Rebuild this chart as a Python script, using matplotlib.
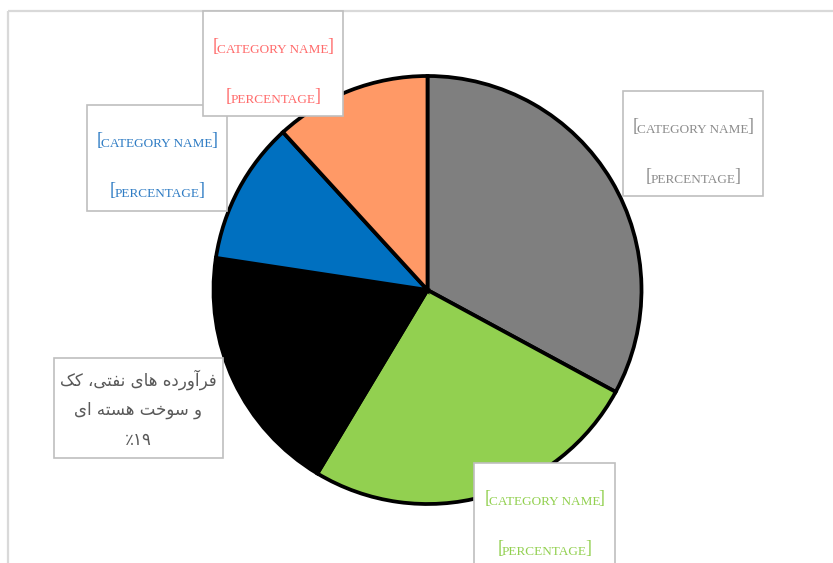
import re
import matplotlib
matplotlib.use('Agg')
import matplotlib.pyplot as plt
from matplotlib.patches import Rectangle

W, H = 833, 563

# slices, clockwise from 12 o'clock
values = [32.9, 25.7, 18.8, 10.8, 11.8]
categories = ['[CATEGORY NAME]', '[CATEGORY NAME]',
              'فرآورده های نفتی، کک\nو سوخت هسته ای',
              '[CATEGORY NAME]', '[CATEGORY NAME]']
pct_labels = ['[PERCENTAGE]', '[PERCENTAGE]', '۱۹٪', '[PERCENTAGE]', '[PERCENTAGE]']
slice_colors = ['#7f7f7f', '#92d050', '#000000', '#0070c0', '#ff9966']
label_colors = ['#8c8c8c', '#92d050', '#595959', '#2f7cc4', '#ff6b6b']

# label boxes in picture pixels: left, top, right, bottom
boxes = [(623, 91, 763, 196), (474, 463, 615, 580), (54, 358, 223, 458),
         (87, 105, 227, 211), (203, 11, 343, 116)]

# --- tiny persian shaper (matplotlib draws no joined arabic script) ---
DUAL = {'\u0641': '\ufed1\ufed2\ufed3\ufed4', '\u0647': '\ufee9\ufeea\ufeeb\ufeec',
        '\u06cc': '\ufbfc\ufbfd\ufbfe\ufbff', '\u0646': '\ufee5\ufee6\ufee7\ufee8',
        '\u062a': '\ufe95\ufe96\ufe97\ufe98', '\u06a9': '\ufb8e\ufb8f\ufb90\ufb91',
        '\u0633': '\ufeb1\ufeb2\ufeb3\ufeb4', '\u062e': '\ufea5\ufea6\ufea7\ufea8'}
RIGHT = {'\u0631': '\ufead\ufeae', '\u0622': '\ufe81\ufe82', '\u0648': '\ufeed\ufeee',
         '\u062f': '\ufea9\ufeaa', '\u0627': '\ufe8d\ufe8e'}


def to_visual(s):
    out = []
    for i, c in enumerate(s):
        prev = s[i - 1] if i > 0 else ''
        nxt = s[i + 1] if i < len(s) - 1 else ''
        if c in DUAL:
            a = prev in DUAL
            b = nxt in DUAL or nxt in RIGHT
            f = DUAL[c]
            c = f[3] if a and b else f[2] if b else f[1] if a else f[0]
        elif c in RIGHT:
            c = RIGHT[c][1] if prev in DUAL else RIGHT[c][0]
        out.append(c)
    runs = re.findall(r'\d+|\D+', ''.join(out))
    return ''.join(r if r[0].isdigit() else r[::-1] for r in reversed(runs))


fig = plt.figure(figsize=(W / 100, H / 100), dpi=100)
ax = fig.add_axes([0, 0, 1, 1])
renderer = fig.canvas.get_renderer()

ax.pie(values, colors=slice_colors, startangle=90, counterclock=False,
       center=(427.5, H - 290), radius=214,
       wedgeprops=dict(edgecolor='black', linewidth=2.7))
ax.set_xlim(0, W)
ax.set_ylim(0, H)
ax.axis('off')

# chart frame
ax.plot([8, W + 5], [H - 11, H - 11], color='#d9d9d9', lw=1.6,
        solid_capstyle='butt', clip_on=False)
ax.plot([8, 8], [H - 11, -5], color='#d9d9d9', lw=1.6,
        solid_capstyle='butt', clip_on=False)


def caps_label(xc, y, text, color):
    word = text.strip('[]')
    t = ax.text(xc, y, word, fontsize=9.5, family='Liberation Serif', color=color,
                ha='center', va='baseline', zorder=5)
    w = t.get_window_extent(renderer).width
    ax.text(xc - w / 2 + 1.5, y + 2.5, '[', fontsize=13, family='Liberation Serif',
            color=color, ha='right', va='baseline', zorder=5)
    ax.text(xc + w / 2 - 1.5, y + 2.5, ']', fontsize=13, family='Liberation Serif',
            color=color, ha='left', va='baseline', zorder=5)


for cat, pct, col, (l, t, r, b) in zip(categories, pct_labels, label_colors, boxes):
    ax.add_patch(Rectangle((l, H - b), r - l, b - t, facecolor='white',
                           edgecolor='#bfbfbf', lw=1.2, zorder=4))
    xc = (l + r) / 2
    if cat.startswith('['):
        caps_label(xc, H - (t + 42), cat, col)
        caps_label(xc, H - (t + 92), pct, col)
    else:
        lines = cat.split('\n') + [pct]
        for k, line in enumerate(lines):
            ax.text(xc, H - (t + 22 + 30 * k), to_visual(line), fontsize=12,
                    family='DejaVu Sans', color=col, ha='center', va='center', zorder=5)

fig.savefig('out.png', dpi=100)
